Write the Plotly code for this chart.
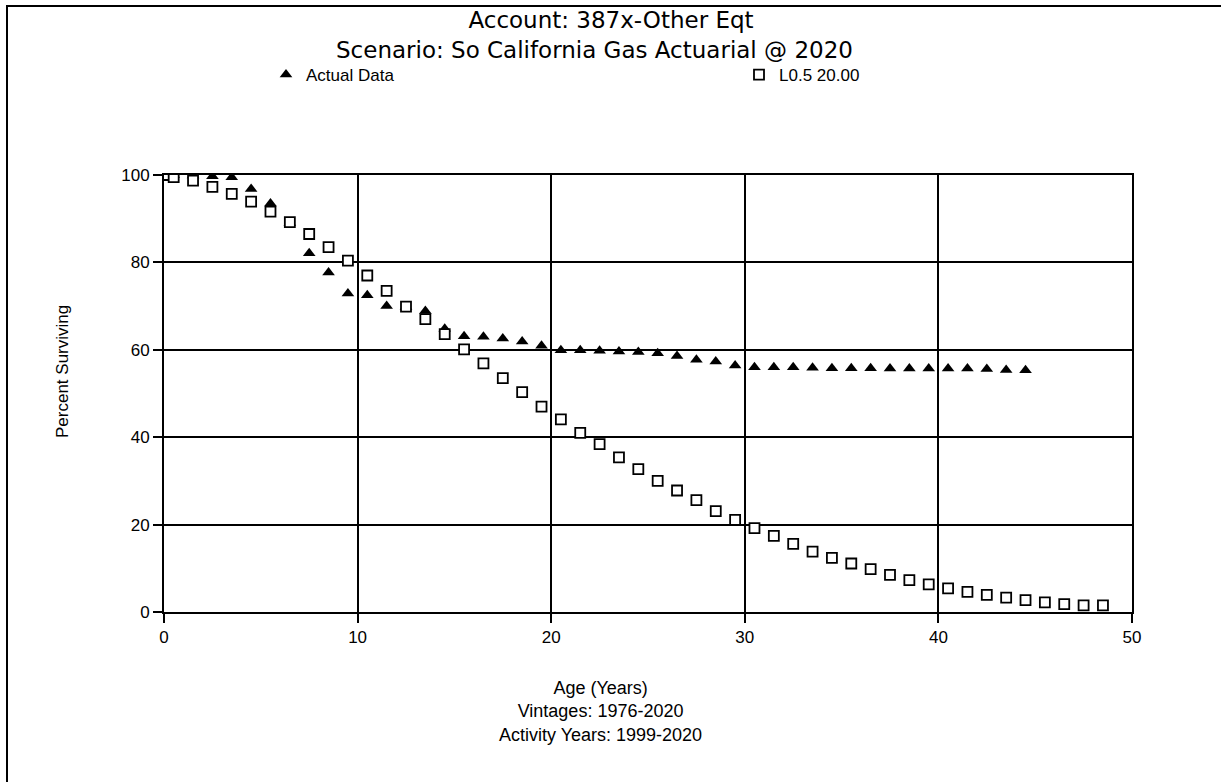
import plotly.graph_objects as go

# Age at each observation point (years)
actual_age = [0, 0.5, 1.5, 2.5, 3.5, 4.5, 5.5, 6.5, 7.5, 8.5, 9.5, 10.5, 11.5, 12.5,
              13.5, 14.5, 15.5, 16.5, 17.5, 18.5, 19.5, 20.5, 21.5, 22.5, 23.5, 24.5,
              25.5, 26.5, 27.5, 28.5, 29.5, 30.5, 31.5, 32.5, 33.5, 34.5, 35.5, 36.5,
              37.5, 38.5, 39.5, 40.5, 41.5, 42.5, 43.5, 44.5]
actual_pct = [100.0, 100.0, 99.9, 99.7, 99.5, 96.8, 93.5, 89.0, 82.1, 77.7, 72.9, 72.5,
              70.0, 69.8, 68.9, 64.8, 63.1, 63.0, 62.6, 61.9, 60.9, 59.9, 59.9, 59.8,
              59.6, 59.5, 59.2, 58.6, 57.7, 57.3, 56.4, 56.0, 56.0, 56.0, 55.9, 55.8,
              55.8, 55.8, 55.7, 55.7, 55.7, 55.7, 55.7, 55.6, 55.4, 55.3]

curve_age = [0, 0.5, 1.5, 2.5, 3.5, 4.5, 5.5, 6.5, 7.5, 8.5, 9.5, 10.5, 11.5, 12.5,
             13.5, 14.5, 15.5, 16.5, 17.5, 18.5, 19.5, 20.5, 21.5, 22.5, 23.5, 24.5,
             25.5, 26.5, 27.5, 28.5, 29.5, 30.5, 31.5, 32.5, 33.5, 34.5, 35.5, 36.5,
             37.5, 38.5, 39.5, 40.5, 41.5, 42.5, 43.5, 44.5, 45.5, 46.5, 47.5, 48.5]
curve_pct = [100.0, 99.5, 98.7, 97.3, 95.7, 93.9, 91.6, 89.2, 86.5, 83.5, 80.4, 77.0,
             73.5, 69.9, 67.0, 63.6, 60.1, 56.9, 53.5, 50.3, 47.0, 44.1, 41.0, 38.4,
             35.4, 32.7, 30.0, 27.8, 25.6, 23.1, 21.1, 19.2, 17.4, 15.6, 13.8, 12.4,
             11.1, 9.8, 8.5, 7.3, 6.3, 5.4, 4.6, 3.9, 3.3, 2.7, 2.2, 1.8, 1.5, 1.5]

x_ticks = [0, 10, 20, 30, 40, 50]
y_ticks = [0, 20, 40, 60, 80, 100]

FONT = "Liberation Sans, Arial, sans-serif"
WIDE = "DejaVu Sans, Liberation Sans, sans-serif"

# plot-area geometry in pixels
W, H = 1221, 782
L, R, T, B = 164, 1132, 175, 612
PW, PH = R - L, B - T


def px_x(px):
    return (px - L) / PW


def px_y(py):
    return (B - py) / PH


fig = go.Figure()
fig.add_trace(go.Scatter(
    x=actual_age, y=actual_pct, mode="markers", name="Actual Data",
    marker=dict(symbol="triangle-up", size=11, color="black", line=dict(width=0)),
    legend="legend",
))
fig.add_trace(go.Scatter(
    x=curve_age, y=curve_pct, mode="markers", name="L0.5 20.00",
    marker=dict(symbol="square", size=10, color="white",
                line=dict(width=1.8, color="black")),
    legend="legend2",
))

axis_common = dict(
    showline=True, linecolor="black", linewidth=2, mirror=True,
    showgrid=True, gridcolor="black", gridwidth=1.6,
    zeroline=False, ticks="outside", ticklen=9, tickcolor="black", tickwidth=1.6,
    tickfont=dict(family=FONT, size=17, color="black"),
)

fig.update_xaxes(range=[0, 50], tickvals=x_ticks, **axis_common)
fig.update_yaxes(range=[0, 100], tickvals=y_ticks, **axis_common)

legend_common = dict(
    orientation="h", yanchor="middle", y=px_y(75), xanchor="left",
    font=dict(family=FONT, size=17, color="black"),
    bgcolor="rgba(0,0,0,0)", itemwidth=30,
)

fig.update_layout(
    width=W, height=H,
    margin=dict(l=L, r=W - R, t=T, b=H - B, pad=0),
    paper_bgcolor="white", plot_bgcolor="white",
    font=dict(family=FONT, color="black"),
    title=dict(text="Account: 387x-Other Eqt",
               x=611 / W, xanchor="center", yref="container", y=1 - 12 / H, yanchor="top",
               font=dict(family=WIDE, size=23, color="black")),
    showlegend=True,
    legend=dict(x=px_x(266), **legend_common),
    legend2=dict(x=px_x(739), **legend_common),
    annotations=[
        # second title line
        dict(text="Scenario: So California Gas Actuarial @ 2020",
             xref="paper", yref="paper", x=px_x(594), y=px_y(50),
             xanchor="center", yanchor="middle", showarrow=False,
             font=dict(family=WIDE, size=23, color="black")),
        dict(text="Age (Years)<br>Vintages: 1976-2020<br>Activity Years: 1999-2020",
             xref="paper", yref="paper", x=px_x(600), y=px_y(676),
             xanchor="center", yanchor="top", showarrow=False,
             font=dict(family=FONT, size=18, color="black")),
        dict(text="Percent Surviving", textangle=-90,
             xref="paper", yref="paper", x=px_x(62), y=px_y(372),
             xanchor="center", yanchor="middle", showarrow=False,
             font=dict(family=FONT, size=17, color="black")),
    ],
    shapes=[dict(type="rect", xref="paper", yref="paper",
                 x0=px_x(7), x1=px_x(W + 20), y0=px_y(H + 20), y1=px_y(6),
                 line=dict(color="black", width=2))],
)

fig.write_html("out.html")
